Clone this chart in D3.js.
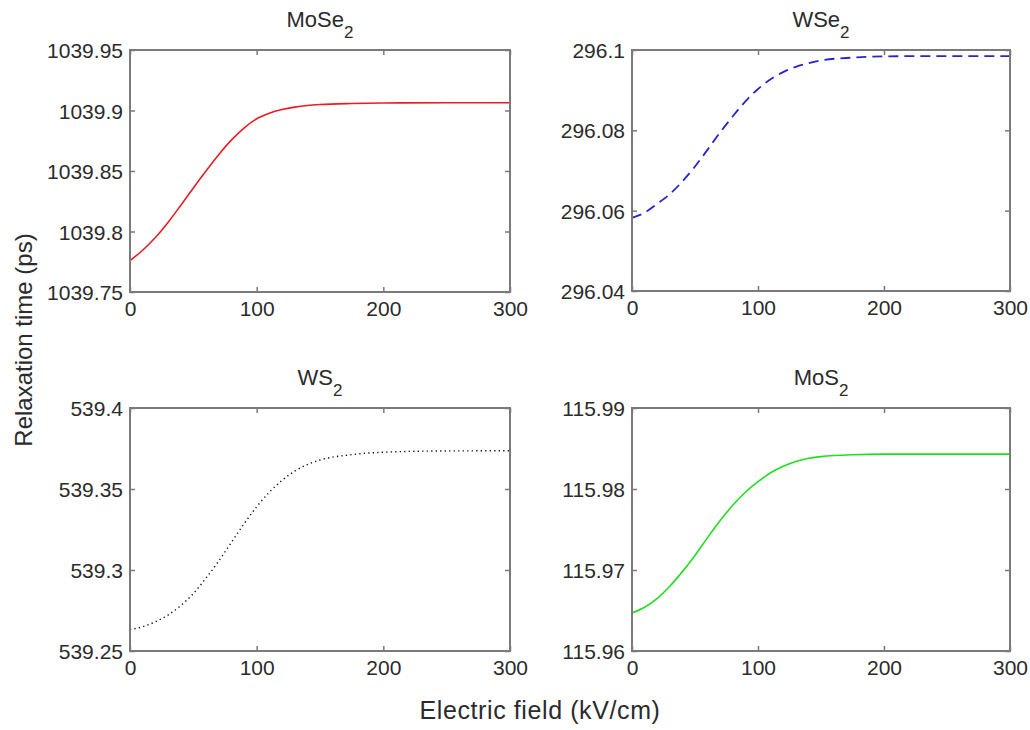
<!DOCTYPE html>
<html>
<head>
<meta charset="utf-8">
<script src="https://cdn.jsdelivr.net/npm/d3@7"></script>
<style>
  body { margin: 0; background: #fff; }
  text { font-family: "Liberation Sans", Arial, sans-serif; fill: #2b2b2b; }
</style>
</head>
<body>
<div id="chart"></div>
<script>
// electric field grid (kV/cm)
const field = [0, 10, 20, 30, 40, 50, 60, 70, 80, 90, 100, 110, 120, 130, 140, 150, 175, 200, 250, 300];

// relaxation time (ps)
const mose2 = [1039.776, 1039.7845, 1039.795, 1039.8075, 1039.8215, 1039.836, 1039.850, 1039.8635, 1039.8755, 1039.8855,
  1039.8932, 1039.8978, 1039.9008, 1039.9028, 1039.9041, 1039.9049, 1039.9058, 1039.9062, 1039.9064, 1039.9064];
const wse2 = [296.0582, 296.0595, 296.0617, 296.0641, 296.0673, 296.0710, 296.0752, 296.0795, 296.0835, 296.0872,
  296.0903, 296.0927, 296.0945, 296.0958, 296.0967, 296.0974, 296.0981, 296.0984, 296.0985, 296.0985];
const ws2 = [539.2632, 539.2650, 539.2680, 539.2722, 539.2780, 539.2855, 539.2950, 539.3055, 539.3170, 539.3285,
  539.3390, 539.3480, 539.3553, 539.3610, 539.3651, 539.3679, 539.3712, 539.3727, 539.3735, 539.3736];
const mos2 = [115.9647, 115.9654, 115.9665, 115.9680, 115.9698, 115.9718, 115.9740, 115.9761, 115.9780, 115.9796,
  115.9809, 115.9820, 115.9828, 115.9834, 115.9838, 115.9840, 115.98423, 115.9843, 115.9843, 115.9843];

// tick values and labels
const xTicks = [0, 100, 200, 300];
const mose2Ticks = [1039.75, 1039.8, 1039.85, 1039.9, 1039.95];
const mose2Labels = ["1039.75", "1039.8", "1039.85", "1039.9", "1039.95"];
const wse2Ticks = [296.04, 296.06, 296.08, 296.1];
const wse2Labels = ["296.04", "296.06", "296.08", "296.1"];
const ws2Ticks = [539.25, 539.3, 539.35, 539.4];
const ws2Labels = ["539.25", "539.3", "539.35", "539.4"];
const mos2Ticks = [115.96, 115.97, 115.98, 115.99];
const mos2Labels = ["115.96", "115.97", "115.98", "115.99"];

const panels = [
  { name: "MoSe", values: mose2, ticks: mose2Ticks, labels: mose2Labels, color: "#ea1c24", dash: null, width: 1.6,
    box: { left: 130, top: 50, right: 510, bottom: 292 } },
  { name: "WSe", values: wse2, ticks: wse2Ticks, labels: wse2Labels, color: "#2626cc", dash: "10,6", width: 1.8,
    box: { left: 632, top: 50, right: 1010, bottom: 291 } },
  { name: "WS", values: ws2, ticks: ws2Ticks, labels: ws2Labels, color: "#111", dash: "1.3,3.2", width: 1.4,
    box: { left: 130, top: 408, right: 510, bottom: 651 } },
  { name: "MoS", values: mos2, ticks: mos2Ticks, labels: mos2Labels, color: "#22dd22", dash: null, width: 1.6,
    box: { left: 632, top: 408, right: 1010, bottom: 651 } }
];

const svg = d3.select("#chart").append("svg")
  .attr("width", 1030)
  .attr("height", 730);

const frameColor = "#7a7a7a";

panels.forEach(p => {
  const w = p.box.right - p.box.left;
  const h = p.box.bottom - p.box.top;
  const g = svg.append("g").attr("transform", `translate(${p.box.left},${p.box.top})`);

  const x = d3.scaleLinear().domain([0, 300]).range([0, w]);
  const y = d3.scaleLinear().domain(d3.extent(p.ticks)).range([h, 0]);

  // curve
  const line = d3.line()
    .x((d, i) => x(field[i]))
    .y(d => y(d))
    .curve(d3.curveMonotoneX);

  g.append("path")
    .datum(p.values)
    .attr("d", line)
    .attr("fill", "none")
    .attr("stroke", p.color)
    .attr("stroke-width", p.width)
    .attr("stroke-dasharray", p.dash);

  // inward ticks on all four sides
  const bottom = g.append("g").attr("transform", `translate(0,${h})`)
    .call(d3.axisBottom(x).tickValues(xTicks).tickSizeInner(-5).tickSizeOuter(0).tickPadding(9));
  const left = g.append("g")
    .call(d3.axisLeft(y).tickValues(p.ticks).tickFormat((d, i) => p.labels[i]).tickSizeInner(-5).tickSizeOuter(0).tickPadding(7));
  g.append("g")
    .call(d3.axisTop(x).tickValues(xTicks).tickSizeInner(-5).tickSizeOuter(0).tickFormat(""));
  g.append("g").attr("transform", `translate(${w},0)`)
    .call(d3.axisRight(y).tickValues(p.ticks).tickSizeInner(-5).tickSizeOuter(0).tickFormat(""));

  g.selectAll(".domain").remove();
  g.selectAll(".tick line").attr("stroke", frameColor).attr("stroke-width", 1.5);
  g.selectAll(".tick text")
    .style("font-size", "21px")
    .attr("fill", "#2b2b2b");
  bottom.selectAll(".tick text").attr("dy", "0.72em");
  left.selectAll(".tick text").attr("dy", "0.36em");

  g.append("rect")
    .attr("width", w)
    .attr("height", h)
    .attr("fill", "none")
    .attr("stroke", frameColor)
    .attr("stroke-width", 2);

  // title with subscript
  const title = g.append("text")
    .attr("x", w / 2)
    .attr("y", -23)
    .attr("text-anchor", "middle")
    .style("font-size", "22px")
    .text(p.name);
  title.append("tspan")
    .attr("dy", 11)
    .style("font-size", "17px")
    .text("2");
});

svg.append("text")
  .attr("transform", "translate(32,340) rotate(-90)")
  .attr("text-anchor", "middle")
  .style("font-size", "24px")
  .text("Relaxation time (ps)");

svg.append("text")
  .attr("x", 540)
  .attr("y", 719)
  .attr("text-anchor", "middle")
  .style("font-size", "25px")
  .style("letter-spacing", "0.6px")
  .text("Electric field (kV/cm)");
</script>
</body>
</html>
